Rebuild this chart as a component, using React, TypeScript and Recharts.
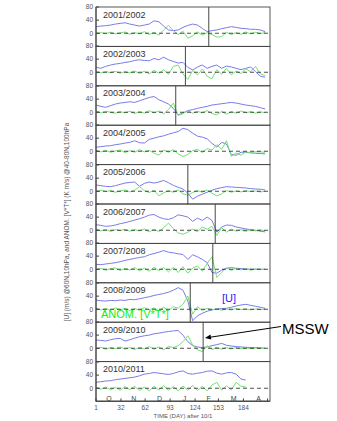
import { LineChart, Line, XAxis, YAxis, ReferenceLine, ReferenceDot } from 'recharts';

const FONT = '"Liberation Sans", Arial, sans-serif';

const days = [1, 7, 13, 19, 25, 31, 37, 43, 49, 55, 61, 67, 73, 79, 85, 91, 97, 103, 109, 115, 121, 127, 133, 139, 145, 151, 157, 163, 169, 175, 181, 187, 193, 199, 205, 211];

const winters = ['2001/2002', '2002/2003', '2003/2004', '2004/2005', '2005/2006', '2006/2007', '2007/2008', '2008/2009', '2009/2010', '2010/2011'];

// [U] zonal wind @60N,10hPa
const u2001 = [20, 22, 23, 25, 28, 30, 32, 28, 25, 22, 25, 28, 38, 35, 22, 10, 8, 10, 18, 24, 28, 25, 15, 5, 8, 10, 14, 17, 20, 18, 15, 14, 12, 12, 10, 5];
const u2002 = [15, 12, 18, 22, 25, 27, 30, 32, 36, 38, 36, 35, 42, 38, 46, 38, 33, 28, 30, 15, 7, 16, 22, 12, 18, 22, 12, 19, 16, 12, 8, 12, 16, 2, -12, -15];
const u2003 = [22, 18, 15, 20, 25, 28, 30, 32, 30, 35, 40, 45, 48, 38, 32, 25, 12, -8, -2, 5, 8, 12, 15, 18, 22, 24, 26, 28, 30, 28, 25, 22, 20, 18, 14, 10];
const u2004 = [12, 14, 16, 17, 20, 22, 25, 27, 32, 26, 25, 36, 40, 44, 47, 52, 56, 60, 70, 66, 55, 46, 43, 38, 24, 13, 27, 22, -10, -12, -3, -3, -5, -6, -7, -8];
const u2005 = [19, 17, 15, 14, 17, 21, 25, 27, 28, 15, 24, 28, 25, 28, 33, 26, 18, 12, 7, -6, -24, -15, -9, -3, 3, 8, 11, 14, 13, 12, 11, 10, 8, 7, 6, 4];
const u2006 = [17, 15, 12, 13, 16, 20, 23, 27, 31, 35, 40, 46, 48, 40, 35, 33, 38, 47, 44, 40, 27, 37, 30, 40, 30, -6, 10, 16, 15, 10, 7, 4, 2, 0, -3, -5];
const u2007 = [15, 14, 16, 18, 20, 23, 27, 30, 33, 36, 38, 44, 48, 52, 57, 52, 50, 47, 45, 30, 44, 38, 30, 20, -10, -12, -3, 3, 5, 3, 2, 1, 0, 0, 0, 0];
const u2008 = [28, 26, 25, 27, 26, 28, 27, 30, 29, 32, 35, 38, 42, 45, 48, 52, 58, 66, 58, 25, -35, -20, -12, -6, -2, 1, 2, 3, 6, 10, 13, 15, 12, 9, 6, 3];
const u2009 = [25, 24, 22, 26, 29, 30, 22, 26, 31, 35, 38, 40, 44, 46, 49, 51, 53, 54, 40, 20, 8, 4, 2, 4, 8, 11, 15, 9, 7, 5, 4, 3, 2, 2, 1, 0];
const u2010 = [18, 20, 22, 23, 26, 28, 30, 32, 34, 38, 43, 45, 48, 46, 44, 42, 45, 50, 53, 45, 43, 46, 48, 52, 53, 46, 43, 47, 48, 43, 28, 25, null, null, null, null];

// ANOM. [V*T*] @40-80N,100hPa
const v2001 = [-2, 2, -1, 3, -2, 1, 4, -3, 2, -2, 5, -4, 3, -6, 10, 24, 8, -4, 6, -15, -8, 4, -6, 2, -4, -12, -10, 3, -4, 2, -3, 4, -2, 3, -1, 2];
const v2002 = [1, -2, 2, -1, 3, -3, 2, -2, 4, -4, 3, -5, 6, -3, 8, -6, 18, 22, -5, -22, 6, -8, 10, -12, -20, 8, -6, 12, -8, 4, -4, 10, 2, 18, -5, -10];
const v2003 = [4, -2, 3, 0, -3, 2, -2, 3, -4, 2, -3, 5, -2, 4, -5, 8, 28, -10, -4, 4, -3, 3, -2, 5, -4, -8, 3, -6, 2, -3, 4, -2, 2, -3, 1, -1];
const v2004 = [2, -2, 3, -3, 1, 4, -4, 2, -3, 5, -2, 3, -6, -12, 4, -3, 5, -8, -16, -10, 2, 6, -4, 8, 4, 20, 6, 32, -16, -5, -12, -2, -4, -1, -2, -3];
const v2005 = [-2, 3, -1, 2, -3, 1, 4, -2, 3, 14, 2, -4, 3, -14, -5, 2, -3, 4, -8, -12, -4, 2, -3, 4, -6, -14, -8, 2, -3, 1, -2, 2, -1, 1, -2, 0];
const v2006 = [2, -2, 3, -4, 2, -1, 3, -3, 2, -2, 4, -5, 3, -4, 8, 22, 5, -8, -12, -6, 4, -5, 10, 3, 12, -16, 8, -6, 4, -3, 2, -4, 3, -2, 1, -2];
const v2007 = [-2, 3, -3, 2, 4, -4, 3, -2, 5, -5, 4, -6, 6, -4, 5, -8, 6, -10, 8, -12, 4, 10, -6, 18, 38, -25, -10, 5, -4, 3, -2, 2, -3, 1, -1, 0];
const v2008 = [3, -2, 2, -3, 4, -2, 3, -4, 2, -3, 5, -2, 4, -5, 6, -4, 8, 3, 15, 40, -15, 8, -4, 3, -2, 2, -3, 1, -2, 2, -1, 1, -2, 1, -1, 0];
const v2009 = [-2, 3, -3, 2, -1, 4, -3, 2, -4, 3, -2, 5, -3, 4, -5, 6, 2, 8, 20, 38, 10, -5, -10, 8, -4, 3, -3, 2, -2, 2, -1, 1, -1, 1, -1, 0];
const v2010 = [2, -3, 4, -5, 3, -6, 5, -4, 6, -7, 4, -8, 6, -5, 8, -6, 5, -8, 7, -6, 9, -7, 6, -8, 10, 18, -6, 8, -5, 18, 6, 4, null, null, null, null];

const uSeries = [u2001, u2002, u2003, u2004, u2005, u2006, u2007, u2008, u2009, u2010];
const vSeries = [v2001, v2002, v2003, v2004, v2005, v2006, v2007, v2008, v2009, v2010];

// day of major sudden stratospheric warming per winter
const msswDays = [141, 112, 100, null, 115, 149, 146, 118, 134, null];

const xTicks = [1, 32, 62, 93, 124, 153, 184, 214];
const yTicks = [0, 40, 80];
const monthLetters = ['O', 'N', 'D', 'J', 'F', 'M', 'A'];
const monthMid = [17, 48, 80, 111, 141, 172, 203];

const TOP = 7;
const LEFT = 96;
const PLOT_W = 174;
const PANEL_H = 39.4;
const PAD = 6;
const AXIS_COLOR = '#444';
const tickStyle = { fontSize: 6.5, fill: '#555', fontFamily: FONT };

function Panel({ index }: { index: number }) {
  const last = index === winters.length - 1;
  const rows = days.map((d, i) => ({ day: d, u: uSeries[index][i], v: vSeries[index][i] }));
  const height = last ? PAD + PANEL_H + 20 : PAD * 2 + PANEL_H;
  const mssw = msswDays[index];

  return (
    <div style={{ position: 'absolute', left: 0, top: TOP + index * PANEL_H - PAD }}>
      <LineChart
        width={337}
        height={height}
        data={rows}
        margin={{ top: PAD, right: 337 - LEFT - PLOT_W, bottom: last ? 0 : PAD, left: 0 }}
      >
        <XAxis
          dataKey="day"
          type="number"
          domain={[1, 217]}
          allowDataOverflow
          ticks={xTicks}
          height={last ? 20 : 0}
          tickSize={-3}
          tickMargin={last ? 7 : 0}
          stroke={AXIS_COLOR}
          tick={tickStyle}
          tickFormatter={(t: number) => (last && t !== 214 ? String(t) : '')}
        />
        <XAxis
          xAxisId="top"
          dataKey="day"
          type="number"
          orientation="top"
          domain={[1, 217]}
          allowDataOverflow
          ticks={xTicks}
          height={0}
          tickSize={-3}
          stroke={AXIS_COLOR}
          tick={tickStyle}
          tickFormatter={() => ''}
        />
        <YAxis
          type="number"
          domain={[-40, 80]}
          allowDataOverflow
          ticks={yTicks}
          width={LEFT}
          tickSize={-3}
          tickMargin={6}
          stroke={AXIS_COLOR}
          tick={tickStyle}
          interval={0}
        />
        <YAxis
          yAxisId="right"
          orientation="right"
          type="number"
          domain={[-40, 80]}
          allowDataOverflow
          ticks={yTicks}
          width={0}
          tickSize={-3}
          stroke={AXIS_COLOR}
          tick={tickStyle}
          tickFormatter={() => ''}
        />
        <Line dataKey="u" type="linear" stroke="#7a7ae8" strokeWidth={1} dot={false} isAnimationActive={false} />
        <Line dataKey="v" type="linear" stroke="#6ee46e" strokeWidth={1} dot={false} isAnimationActive={false} />
        <ReferenceLine y={0} stroke="#222" strokeWidth={0.8} strokeDasharray="4 3" />
        {mssw !== null && <ReferenceLine x={mssw} stroke="#333" strokeWidth={0.9} />}
        {last &&
          monthLetters.map((m, i) => (
            <ReferenceDot
              key={m}
              x={monthMid[i]}
              y={-32}
              r={0}
              fill="none"
              stroke="none"
              label={{ value: m, position: 'center', fontSize: 7, fill: '#444', fontFamily: FONT }}
            />
          ))}
      </LineChart>
    </div>
  );
}

export default function App() {
  return (
    <div style={{ position: 'absolute', left: 0, top: 0, width: 337, height: 421, background: '#fff', fontFamily: FONT }}>
      {winters.map((w, i) => (
        <Panel key={w} index={i} />
      ))}
      <svg width={337} height={421} style={{ position: 'absolute', left: 0, top: 0, pointerEvents: 'none' }}>
        {winters.map((w, i) => (
          <rect
            key={`frame-${w}`}
            x={LEFT}
            y={TOP + i * PANEL_H}
            width={PLOT_W}
            height={PANEL_H}
            fill="none"
            stroke={AXIS_COLOR}
            strokeWidth={0.9}
          />
        ))}
        {winters.map((w, i) => (
          <text key={w} x={103} y={TOP + i * PANEL_H + 10.5} fontSize={9} fill="#333" fontFamily={FONT}>
            {w}
          </text>
        ))}
        <text
          x={67}
          y={222}
          transform="rotate(-90 67 222)"
          textAnchor="middle"
          dominantBaseline="middle"
          fontSize={6.5}
          fill="#555"
          fontFamily={FONT}
        >
          [U] (m/s) @60N,10hPa, and ANOM. [V*T*] (K m/s) @40-80N,100hPa
        </text>
        <text x={183} y={418} textAnchor="middle" fontSize={6} fill="#555" fontFamily={FONT}>
          TIME (DAY) after 10/1
        </text>
        <text x={222} y={302} fontSize={11} fill="#2222ff" fontFamily={FONT}>
          [U]
        </text>
        <text x={101} y={318} fontSize={11} fill="#11ee11" fontFamily={FONT}>
          ANOM. [V*T*]
        </text>
        <text x={282} y={334} fontSize={15} fill="#000" fontFamily={FONT}>
          MSSW
        </text>
        <line x1={281} y1={326.5} x2={210.9} y2={337.1} stroke="#000" strokeWidth={1} />
        <polygon points="205,338 211.3,339.6 210.5,334.6" fill="#000" />
      </svg>
    </div>
  );
}
